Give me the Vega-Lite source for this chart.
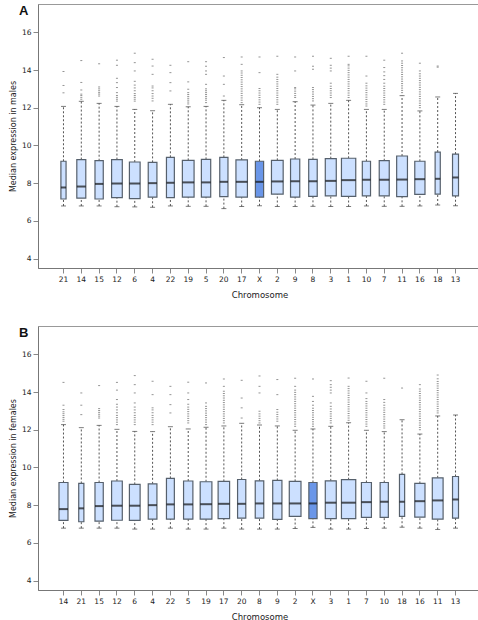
{
"$schema":"https://vega.github.io/schema/vega-lite/v6.json",
"padding":{"left":8,"top":3,"right":3,"bottom":3},
"config":{"view":{"stroke":"#999","strokeWidth":1},"font":"DejaVu Sans","axis":{"grid":false,"domainColor":"#777","tickColor":"#888","labelColor":"#222","titleColor":"#222","labelFont":"DejaVu Sans","titleFont":"DejaVu Sans","labelFontSize":7.5,"titleFontSize":8,"titleFontWeight":"normal"}},
"datasets":{
"boxA":[
{"chr":"21","n":260,"low":6.79,"q1":7.16,"med":7.77,"q3":9.16,"high":12.07},
{"chr":"14","n":790,"low":6.79,"q1":7.21,"med":7.82,"q3":9.25,"high":12.34},
{"chr":"15","n":670,"low":6.79,"q1":7.16,"med":7.96,"q3":9.19,"high":12.23},
{"chr":"12","n":1120,"low":6.75,"q1":7.23,"med":7.98,"q3":9.25,"high":12.07},
{"chr":"6","n":1120,"low":6.74,"q1":7.18,"med":7.98,"q3":9.12,"high":11.91},
{"chr":"4","n":740,"low":6.72,"q1":7.26,"med":8.0,"q3":9.1,"high":11.84},
{"chr":"22","n":610,"low":6.79,"q1":7.23,"med":8.02,"q3":9.37,"high":12.18},
{"chr":"19","n":1340,"low":6.77,"q1":7.26,"med":8.04,"q3":9.21,"high":12.05},
{"chr":"5","n":850,"low":6.77,"q1":7.26,"med":8.04,"q3":9.26,"high":12.07},
{"chr":"20","n":660,"low":6.65,"q1":7.28,"med":8.07,"q3":9.37,"high":12.39},
{"chr":"17","n":1290,"low":6.76,"q1":7.26,"med":8.07,"q3":9.23,"high":12.16},
{"chr":"X","n":660,"low":6.8,"q1":7.26,"med":8.07,"q3":9.16,"high":12.0},
{"chr":"2","n":1340,"low":6.76,"q1":7.42,"med":8.09,"q3":9.21,"high":11.91},
{"chr":"9","n":830,"low":6.76,"q1":7.26,"med":8.1,"q3":9.28,"high":12.32},
{"chr":"8","n":710,"low":6.77,"q1":7.3,"med":8.1,"q3":9.26,"high":12.14},
{"chr":"3","n":1180,"low":6.76,"q1":7.32,"med":8.12,"q3":9.3,"high":12.23},
{"chr":"1","n":2000,"low":6.76,"q1":7.3,"med":8.16,"q3":9.32,"high":12.39},
{"chr":"10","n":660,"low":6.79,"q1":7.32,"med":8.18,"q3":9.16,"high":11.91},
{"chr":"7","n":980,"low":6.77,"q1":7.33,"med":8.18,"q3":9.19,"high":11.91},
{"chr":"11","n":1140,"low":6.77,"q1":7.28,"med":8.19,"q3":9.44,"high":12.64},
{"chr":"16","n":1020,"low":6.79,"q1":7.4,"med":8.21,"q3":9.16,"high":11.83},
{"chr":"18","n":260,"low":6.84,"q1":7.42,"med":8.23,"q3":9.65,"high":12.57},
{"chr":"13","n":350,"low":6.8,"q1":7.32,"med":8.3,"q3":9.54,"high":12.76}
],
"boxB":[
{"chr":"14","n":790,"low":6.78,"q1":7.19,"med":7.79,"q3":9.2,"high":12.27},
{"chr":"21","n":260,"low":6.78,"q1":7.12,"med":7.83,"q3":9.15,"high":12.11},
{"chr":"15","n":670,"low":6.78,"q1":7.15,"med":7.95,"q3":9.2,"high":12.23},
{"chr":"12","n":1120,"low":6.78,"q1":7.2,"med":7.97,"q3":9.28,"high":12.02},
{"chr":"6","n":1120,"low":6.73,"q1":7.19,"med":7.97,"q3":9.1,"high":11.91},
{"chr":"4","n":740,"low":6.73,"q1":7.26,"med":8.0,"q3":9.13,"high":11.9},
{"chr":"22","n":610,"low":6.78,"q1":7.26,"med":8.04,"q3":9.42,"high":12.16},
{"chr":"5","n":850,"low":6.73,"q1":7.26,"med":8.04,"q3":9.28,"high":12.04},
{"chr":"19","n":1340,"low":6.73,"q1":7.26,"med":8.05,"q3":9.24,"high":12.13},
{"chr":"17","n":1290,"low":6.78,"q1":7.29,"med":8.07,"q3":9.26,"high":12.2},
{"chr":"20","n":660,"low":6.73,"q1":7.31,"med":8.07,"q3":9.36,"high":12.34},
{"chr":"8","n":710,"low":6.73,"q1":7.31,"med":8.09,"q3":9.29,"high":12.25},
{"chr":"9","n":830,"low":6.73,"q1":7.24,"med":8.09,"q3":9.31,"high":12.2},
{"chr":"2","n":1340,"low":6.76,"q1":7.4,"med":8.09,"q3":9.26,"high":11.97},
{"chr":"X","n":660,"low":6.82,"q1":7.29,"med":8.09,"q3":9.2,"high":12.04},
{"chr":"3","n":1180,"low":6.73,"q1":7.29,"med":8.13,"q3":9.29,"high":12.18},
{"chr":"1","n":2000,"low":6.73,"q1":7.29,"med":8.13,"q3":9.35,"high":12.37},
{"chr":"7","n":980,"low":6.76,"q1":7.35,"med":8.16,"q3":9.2,"high":11.97},
{"chr":"10","n":660,"low":6.78,"q1":7.35,"med":8.18,"q3":9.2,"high":11.9},
{"chr":"18","n":260,"low":6.83,"q1":7.4,"med":8.18,"q3":9.63,"high":12.53},
{"chr":"16","n":1020,"low":6.78,"q1":7.36,"med":8.21,"q3":9.15,"high":11.77},
{"chr":"11","n":1140,"low":6.71,"q1":7.26,"med":8.25,"q3":9.45,"high":12.73},
{"chr":"13","n":350,"low":6.78,"q1":7.31,"med":8.3,"q3":9.52,"high":12.78}
],
"outA":[
{"chr":"21","v":12.79},{"chr":"21","v":13.18},{"chr":"21","v":13.92},
{"chr":"14","v":12.45},{"chr":"14","v":12.55},{"chr":"14","v":12.65},{"chr":"14","v":12.72},{"chr":"14","v":12.94},{"chr":"14","v":13.34},{"chr":"14","v":14.5},
{"chr":"15","v":12.62},{"chr":"15","v":12.72},{"chr":"15","v":12.8},{"chr":"15","v":12.9},{"chr":"15","v":13.0},{"chr":"15","v":13.1},{"chr":"15","v":14.33},
{"chr":"12","v":12.35},{"chr":"12","v":12.45},{"chr":"12","v":12.55},{"chr":"12","v":12.65},{"chr":"12","v":12.8},{"chr":"12","v":13.07},{"chr":"12","v":13.33},{"chr":"12","v":13.56},{"chr":"12","v":14.25},{"chr":"12","v":14.52},
{"chr":"6","v":12.35},{"chr":"6","v":12.45},{"chr":"6","v":12.55},{"chr":"6","v":12.65},{"chr":"6","v":12.75},{"chr":"6","v":12.9},{"chr":"6","v":13.05},{"chr":"6","v":13.2},{"chr":"6","v":13.4},{"chr":"6","v":13.95},{"chr":"6","v":14.39},{"chr":"6","v":14.89},
{"chr":"4","v":12.36},{"chr":"4","v":12.5},{"chr":"4","v":12.62},{"chr":"4","v":12.75},{"chr":"4","v":12.9},{"chr":"4","v":13.05},{"chr":"4","v":13.15},{"chr":"4","v":13.77},{"chr":"4","v":14.21},{"chr":"4","v":14.57},
{"chr":"22","v":12.89},{"chr":"22","v":13.33},{"chr":"22","v":13.86},{"chr":"22","v":14.25},
{"chr":"19","v":12.2},{"chr":"19","v":12.3},{"chr":"19","v":12.4},{"chr":"19","v":12.5},{"chr":"19","v":12.6},{"chr":"19","v":12.7},{"chr":"19","v":12.8},{"chr":"19","v":12.98},{"chr":"19","v":13.37},{"chr":"19","v":14.44},
{"chr":"5","v":12.27},{"chr":"5","v":12.4},{"chr":"5","v":12.5},{"chr":"5","v":12.6},{"chr":"5","v":12.7},{"chr":"5","v":12.8},{"chr":"5","v":12.9},{"chr":"5","v":13.0},{"chr":"5","v":13.24},{"chr":"5","v":13.77},{"chr":"5","v":13.95},{"chr":"5","v":14.2},{"chr":"5","v":14.44},
{"chr":"20","v":12.62},{"chr":"20","v":13.24},{"chr":"20","v":13.68},{"chr":"20","v":14.66},
{"chr":"17","v":12.27},{"chr":"17","v":12.4},{"chr":"17","v":12.52},{"chr":"17","v":12.64},{"chr":"17","v":12.76},{"chr":"17","v":12.88},{"chr":"17","v":13.0},{"chr":"17","v":13.12},{"chr":"17","v":13.24},{"chr":"17","v":13.36},{"chr":"17","v":13.48},{"chr":"17","v":13.6},{"chr":"17","v":13.72},{"chr":"17","v":13.84},{"chr":"17","v":13.95},{"chr":"17","v":14.3},{"chr":"17","v":14.69},
{"chr":"X","v":12.18},{"chr":"X","v":12.3},{"chr":"X","v":12.42},{"chr":"X","v":12.54},{"chr":"X","v":12.66},{"chr":"X","v":12.78},{"chr":"X","v":12.9},{"chr":"X","v":13.02},{"chr":"X","v":13.86},{"chr":"X","v":14.69},
{"chr":"2","v":12.18},{"chr":"2","v":12.3},{"chr":"2","v":12.42},{"chr":"2","v":12.54},{"chr":"2","v":12.66},{"chr":"2","v":12.78},{"chr":"2","v":12.9},{"chr":"2","v":13.02},{"chr":"2","v":13.14},{"chr":"2","v":13.26},{"chr":"2","v":13.38},{"chr":"2","v":13.5},{"chr":"2","v":13.62},{"chr":"2","v":13.77},{"chr":"2","v":14.73},
{"chr":"9","v":12.54},{"chr":"9","v":12.64},{"chr":"9","v":12.76},{"chr":"9","v":12.88},{"chr":"9","v":13.0},{"chr":"9","v":13.07},{"chr":"9","v":13.95},{"chr":"9","v":14.69},
{"chr":"8","v":12.36},{"chr":"8","v":12.48},{"chr":"8","v":12.6},{"chr":"8","v":12.72},{"chr":"8","v":12.84},{"chr":"8","v":12.96},{"chr":"8","v":13.07},{"chr":"8","v":14.04},{"chr":"8","v":14.2},{"chr":"8","v":14.73},
{"chr":"3","v":12.54},{"chr":"3","v":12.66},{"chr":"3","v":12.78},{"chr":"3","v":12.9},{"chr":"3","v":13.02},{"chr":"3","v":13.14},{"chr":"3","v":13.3},{"chr":"3","v":13.95},{"chr":"3","v":14.1},{"chr":"3","v":14.25},{"chr":"3","v":14.62},
{"chr":"1","v":12.54},{"chr":"1","v":12.66},{"chr":"1","v":12.78},{"chr":"1","v":12.9},{"chr":"1","v":13.02},{"chr":"1","v":13.14},{"chr":"1","v":13.26},{"chr":"1","v":13.38},{"chr":"1","v":13.5},{"chr":"1","v":13.62},{"chr":"1","v":13.74},{"chr":"1","v":13.86},{"chr":"1","v":13.98},{"chr":"1","v":14.1},{"chr":"1","v":14.22},{"chr":"1","v":14.3},{"chr":"1","v":14.73},
{"chr":"10","v":12.09},{"chr":"10","v":12.2},{"chr":"10","v":12.32},{"chr":"10","v":12.44},{"chr":"10","v":12.56},{"chr":"10","v":12.68},{"chr":"10","v":12.8},{"chr":"10","v":12.92},{"chr":"10","v":13.04},{"chr":"10","v":13.16},{"chr":"10","v":13.3},{"chr":"10","v":13.68},{"chr":"10","v":14.73},
{"chr":"7","v":12.18},{"chr":"7","v":12.3},{"chr":"7","v":12.42},{"chr":"7","v":12.54},{"chr":"7","v":12.66},{"chr":"7","v":12.78},{"chr":"7","v":12.9},{"chr":"7","v":13.02},{"chr":"7","v":13.14},{"chr":"7","v":13.3},{"chr":"7","v":13.5},{"chr":"7","v":13.7},{"chr":"7","v":13.9},{"chr":"7","v":14.13},{"chr":"7","v":14.52},
{"chr":"11","v":12.8},{"chr":"11","v":12.92},{"chr":"11","v":13.04},{"chr":"11","v":13.16},{"chr":"11","v":13.28},{"chr":"11","v":13.4},{"chr":"11","v":13.52},{"chr":"11","v":13.64},{"chr":"11","v":13.76},{"chr":"11","v":13.88},{"chr":"11","v":14.0},{"chr":"11","v":14.12},{"chr":"11","v":14.24},{"chr":"11","v":14.36},{"chr":"11","v":14.48},{"chr":"11","v":14.89},
{"chr":"16","v":12.0},{"chr":"16","v":12.12},{"chr":"16","v":12.24},{"chr":"16","v":12.36},{"chr":"16","v":12.48},{"chr":"16","v":12.6},{"chr":"16","v":12.72},{"chr":"16","v":12.84},{"chr":"16","v":12.96},{"chr":"16","v":13.08},{"chr":"16","v":13.2},{"chr":"16","v":13.32},{"chr":"16","v":13.44},{"chr":"16","v":13.56},{"chr":"16","v":13.68},{"chr":"16","v":13.8},{"chr":"16","v":13.95},{"chr":"16","v":14.36},
{"chr":"18","v":14.15},{"chr":"18","v":14.21}
],
"outB":[
{"chr":"14","v":12.45},{"chr":"14","v":12.55},{"chr":"14","v":12.65},{"chr":"14","v":12.75},{"chr":"14","v":12.85},{"chr":"14","v":12.95},{"chr":"14","v":13.07},{"chr":"14","v":13.3},{"chr":"14","v":14.51},
{"chr":"21","v":12.8},{"chr":"21","v":13.3},{"chr":"21","v":13.95},
{"chr":"15","v":12.62},{"chr":"15","v":12.72},{"chr":"15","v":12.82},{"chr":"15","v":12.92},{"chr":"15","v":13.02},{"chr":"15","v":13.12},{"chr":"15","v":14.34},
{"chr":"12","v":12.27},{"chr":"12","v":12.4},{"chr":"12","v":12.52},{"chr":"12","v":12.64},{"chr":"12","v":12.76},{"chr":"12","v":12.9},{"chr":"12","v":13.05},{"chr":"12","v":13.2},{"chr":"12","v":13.35},{"chr":"12","v":13.6},{"chr":"12","v":14.1},{"chr":"12","v":14.51},
{"chr":"6","v":12.27},{"chr":"6","v":12.4},{"chr":"6","v":12.52},{"chr":"6","v":12.64},{"chr":"6","v":12.76},{"chr":"6","v":12.9},{"chr":"6","v":13.05},{"chr":"6","v":13.2},{"chr":"6","v":13.42},{"chr":"6","v":13.95},{"chr":"6","v":14.39},{"chr":"6","v":14.87},
{"chr":"4","v":12.27},{"chr":"4","v":12.4},{"chr":"4","v":12.52},{"chr":"4","v":12.64},{"chr":"4","v":12.76},{"chr":"4","v":12.9},{"chr":"4","v":13.05},{"chr":"4","v":13.16},{"chr":"4","v":13.86},{"chr":"4","v":14.57},
{"chr":"22","v":12.89},{"chr":"22","v":13.33},{"chr":"22","v":13.86},{"chr":"22","v":14.3},
{"chr":"5","v":12.36},{"chr":"5","v":12.48},{"chr":"5","v":12.6},{"chr":"5","v":12.72},{"chr":"5","v":12.84},{"chr":"5","v":12.96},{"chr":"5","v":13.08},{"chr":"5","v":13.2},{"chr":"5","v":13.35},{"chr":"5","v":13.6},{"chr":"5","v":13.95},{"chr":"5","v":14.52},
{"chr":"19","v":12.27},{"chr":"19","v":12.4},{"chr":"19","v":12.52},{"chr":"19","v":12.64},{"chr":"19","v":12.76},{"chr":"19","v":12.88},{"chr":"19","v":13.0},{"chr":"19","v":13.12},{"chr":"19","v":13.24},{"chr":"19","v":13.42},{"chr":"19","v":14.48},
{"chr":"17","v":12.36},{"chr":"17","v":12.48},{"chr":"17","v":12.6},{"chr":"17","v":12.72},{"chr":"17","v":12.84},{"chr":"17","v":12.96},{"chr":"17","v":13.08},{"chr":"17","v":13.2},{"chr":"17","v":13.32},{"chr":"17","v":13.44},{"chr":"17","v":13.56},{"chr":"17","v":13.68},{"chr":"17","v":13.8},{"chr":"17","v":13.92},{"chr":"17","v":14.04},{"chr":"17","v":14.3},{"chr":"17","v":14.69},
{"chr":"20","v":12.62},{"chr":"20","v":13.16},{"chr":"20","v":13.68},{"chr":"20","v":14.62},
{"chr":"8","v":12.36},{"chr":"8","v":12.48},{"chr":"8","v":12.6},{"chr":"8","v":12.72},{"chr":"8","v":12.84},{"chr":"8","v":12.98},{"chr":"8","v":13.95},{"chr":"8","v":14.3},{"chr":"8","v":14.85},
{"chr":"9","v":12.45},{"chr":"9","v":12.57},{"chr":"9","v":12.69},{"chr":"9","v":12.81},{"chr":"9","v":12.93},{"chr":"9","v":13.07},{"chr":"9","v":13.86},{"chr":"9","v":14.66},
{"chr":"2","v":12.18},{"chr":"2","v":12.3},{"chr":"2","v":12.42},{"chr":"2","v":12.54},{"chr":"2","v":12.66},{"chr":"2","v":12.78},{"chr":"2","v":12.9},{"chr":"2","v":13.02},{"chr":"2","v":13.14},{"chr":"2","v":13.26},{"chr":"2","v":13.38},{"chr":"2","v":13.5},{"chr":"2","v":13.62},{"chr":"2","v":13.74},{"chr":"2","v":13.86},{"chr":"2","v":13.98},{"chr":"2","v":14.1},{"chr":"2","v":14.3},{"chr":"2","v":14.73},
{"chr":"X","v":12.18},{"chr":"X","v":12.3},{"chr":"X","v":12.42},{"chr":"X","v":12.54},{"chr":"X","v":12.66},{"chr":"X","v":12.78},{"chr":"X","v":12.9},{"chr":"X","v":13.02},{"chr":"X","v":13.14},{"chr":"X","v":13.3},{"chr":"X","v":13.5},{"chr":"X","v":13.77},{"chr":"X","v":14.69},
{"chr":"3","v":12.36},{"chr":"3","v":12.48},{"chr":"3","v":12.6},{"chr":"3","v":12.72},{"chr":"3","v":12.84},{"chr":"3","v":12.96},{"chr":"3","v":13.1},{"chr":"3","v":13.24},{"chr":"3","v":13.42},{"chr":"3","v":13.95},{"chr":"3","v":14.1},{"chr":"3","v":14.25},{"chr":"3","v":14.39},{"chr":"3","v":14.6},
{"chr":"1","v":12.5},{"chr":"1","v":12.62},{"chr":"1","v":12.74},{"chr":"1","v":12.86},{"chr":"1","v":12.98},{"chr":"1","v":13.1},{"chr":"1","v":13.22},{"chr":"1","v":13.34},{"chr":"1","v":13.46},{"chr":"1","v":13.58},{"chr":"1","v":13.7},{"chr":"1","v":13.82},{"chr":"1","v":13.94},{"chr":"1","v":14.06},{"chr":"1","v":14.18},{"chr":"1","v":14.3},{"chr":"1","v":14.74},
{"chr":"7","v":12.18},{"chr":"7","v":12.3},{"chr":"7","v":12.42},{"chr":"7","v":12.54},{"chr":"7","v":12.66},{"chr":"7","v":12.78},{"chr":"7","v":12.9},{"chr":"7","v":13.02},{"chr":"7","v":13.14},{"chr":"7","v":13.26},{"chr":"7","v":13.38},{"chr":"7","v":13.5},{"chr":"7","v":13.65},{"chr":"7","v":13.95},{"chr":"7","v":14.57},
{"chr":"10","v":12.09},{"chr":"10","v":12.2},{"chr":"10","v":12.32},{"chr":"10","v":12.44},{"chr":"10","v":12.56},{"chr":"10","v":12.68},{"chr":"10","v":12.8},{"chr":"10","v":12.92},{"chr":"10","v":13.04},{"chr":"10","v":13.16},{"chr":"10","v":13.3},{"chr":"10","v":13.45},{"chr":"10","v":13.6},{"chr":"10","v":14.73},
{"chr":"18","v":14.21},
{"chr":"16","v":12.0},{"chr":"16","v":12.12},{"chr":"16","v":12.24},{"chr":"16","v":12.36},{"chr":"16","v":12.48},{"chr":"16","v":12.6},{"chr":"16","v":12.72},{"chr":"16","v":12.84},{"chr":"16","v":12.96},{"chr":"16","v":13.08},{"chr":"16","v":13.2},{"chr":"16","v":13.32},{"chr":"16","v":13.44},{"chr":"16","v":13.56},{"chr":"16","v":13.68},{"chr":"16","v":13.8},{"chr":"16","v":13.92},{"chr":"16","v":14.04},{"chr":"16","v":14.16},{"chr":"16","v":14.39},
{"chr":"11","v":12.89},{"chr":"11","v":13.0},{"chr":"11","v":13.12},{"chr":"11","v":13.24},{"chr":"11","v":13.36},{"chr":"11","v":13.48},{"chr":"11","v":13.6},{"chr":"11","v":13.72},{"chr":"11","v":13.84},{"chr":"11","v":13.96},{"chr":"11","v":14.08},{"chr":"11","v":14.2},{"chr":"11","v":14.32},{"chr":"11","v":14.44},{"chr":"11","v":14.56},{"chr":"11","v":14.7},{"chr":"11","v":14.9}
]
},
"vconcat":[
{
"width":443,"height":264,
"title":{"text":"A","anchor":"start","frame":"group","font":"Liberation Sans","fontSize":13,"fontWeight":"bold","color":"#111","dx":-19,"dy":14,"offset":0},
"encoding":{"x":{"field":"chr","type":"nominal","title":"Chromosome","scale":{"domain":["21","14","15","12","6","4","22","19","5","20","17","X","2","9","8","3","1","10","7","11","16","18","13"],"paddingInner":0,"paddingOuter":0.93},"axis":{"labelAngle":0,"tickSize":5,"labelPadding":2,"titlePadding":8,"titleFontSize":8.5}}},
"layer":[
{"data":{"name":"boxA"},"mark":{"type":"rule","strokeDash":[2,2],"color":"#555","strokeWidth":1},"encoding":{"y":{"field":"q3","type":"quantitative","scale":{"domain":[3.5,17.5],"nice":false,"zero":false},"title":"Median expression in males","axis":{"values":[4,6,8,10,12,14,16],"tickSize":5,"labelPadding":2,"titlePadding":4}},"y2":{"field":"high"}}},
{"data":{"name":"boxA"},"mark":{"type":"rule","strokeDash":[2,2],"color":"#555","strokeWidth":1},"encoding":{"y":{"field":"low","type":"quantitative"},"y2":{"field":"q1"}}},
{"data":{"name":"boxA"},"mark":{"type":"tick","size":5,"thickness":1,"color":"#444"},"encoding":{"y":{"field":"high","type":"quantitative"}}},
{"data":{"name":"boxA"},"mark":{"type":"tick","size":5,"thickness":1,"color":"#444"},"encoding":{"y":{"field":"low","type":"quantitative"}}},
{"data":{"name":"outA"},"mark":{"type":"tick","size":2,"thickness":1,"color":"#666"},"encoding":{"y":{"field":"v","type":"quantitative"}}},
{"data":{"name":"boxA"},"mark":{"type":"bar","stroke":"#56606c","strokeWidth":1.2},"encoding":{"y":{"field":"q1","type":"quantitative"},"y2":{"field":"q3"},"size":{"field":"n","type":"quantitative","scale":{"type":"sqrt","domain":[0,2000],"range":[0,14.3],"zero":true},"legend":null},"fill":{"condition":{"test":"datum.chr === 'X'","value":"#6a96e8"},"value":"#cce0ff"}}},
{"data":{"name":"boxA"},"mark":{"type":"tick","thickness":2,"color":"#111"},"encoding":{"y":{"field":"med","type":"quantitative"},"size":{"field":"n","type":"quantitative","scale":{"type":"sqrt","domain":[0,2000],"range":[0,14.3],"zero":true},"legend":null}}}
]
},
{
"width":443,"height":264,
"title":{"text":"B","anchor":"start","frame":"group","font":"Liberation Sans","fontSize":13,"fontWeight":"bold","color":"#111","dx":-19,"dy":14,"offset":0},
"encoding":{"x":{"field":"chr","type":"nominal","title":"Chromosome","scale":{"domain":["14","21","15","12","6","4","22","5","19","17","20","8","9","2","X","3","1","7","10","18","16","11","13"],"paddingInner":0,"paddingOuter":0.93},"axis":{"labelAngle":0,"tickSize":5,"labelPadding":2,"titlePadding":8,"titleFontSize":8.5}}},
"layer":[
{"data":{"name":"boxB"},"mark":{"type":"rule","strokeDash":[2,2],"color":"#555","strokeWidth":1},"encoding":{"y":{"field":"q3","type":"quantitative","scale":{"domain":[3.5,17.5],"nice":false,"zero":false},"title":"Median expression in females","axis":{"values":[4,6,8,10,12,14,16],"tickSize":5,"labelPadding":2,"titlePadding":4}},"y2":{"field":"high"}}},
{"data":{"name":"boxB"},"mark":{"type":"rule","strokeDash":[2,2],"color":"#555","strokeWidth":1},"encoding":{"y":{"field":"low","type":"quantitative"},"y2":{"field":"q1"}}},
{"data":{"name":"boxB"},"mark":{"type":"tick","size":5,"thickness":1,"color":"#444"},"encoding":{"y":{"field":"high","type":"quantitative"}}},
{"data":{"name":"boxB"},"mark":{"type":"tick","size":5,"thickness":1,"color":"#444"},"encoding":{"y":{"field":"low","type":"quantitative"}}},
{"data":{"name":"outB"},"mark":{"type":"tick","size":2,"thickness":1,"color":"#666"},"encoding":{"y":{"field":"v","type":"quantitative"}}},
{"data":{"name":"boxB"},"mark":{"type":"bar","stroke":"#56606c","strokeWidth":1.2},"encoding":{"y":{"field":"q1","type":"quantitative"},"y2":{"field":"q3"},"size":{"field":"n","type":"quantitative","scale":{"type":"sqrt","domain":[0,2000],"range":[0,14.3],"zero":true},"legend":null},"fill":{"condition":{"test":"datum.chr === 'X'","value":"#6a96e8"},"value":"#cce0ff"}}},
{"data":{"name":"boxB"},"mark":{"type":"tick","thickness":2,"color":"#111"},"encoding":{"y":{"field":"med","type":"quantitative"},"size":{"field":"n","type":"quantitative","scale":{"type":"sqrt","domain":[0,2000],"range":[0,14.3],"zero":true},"legend":null}}}
]
}
],
"spacing":25
}
